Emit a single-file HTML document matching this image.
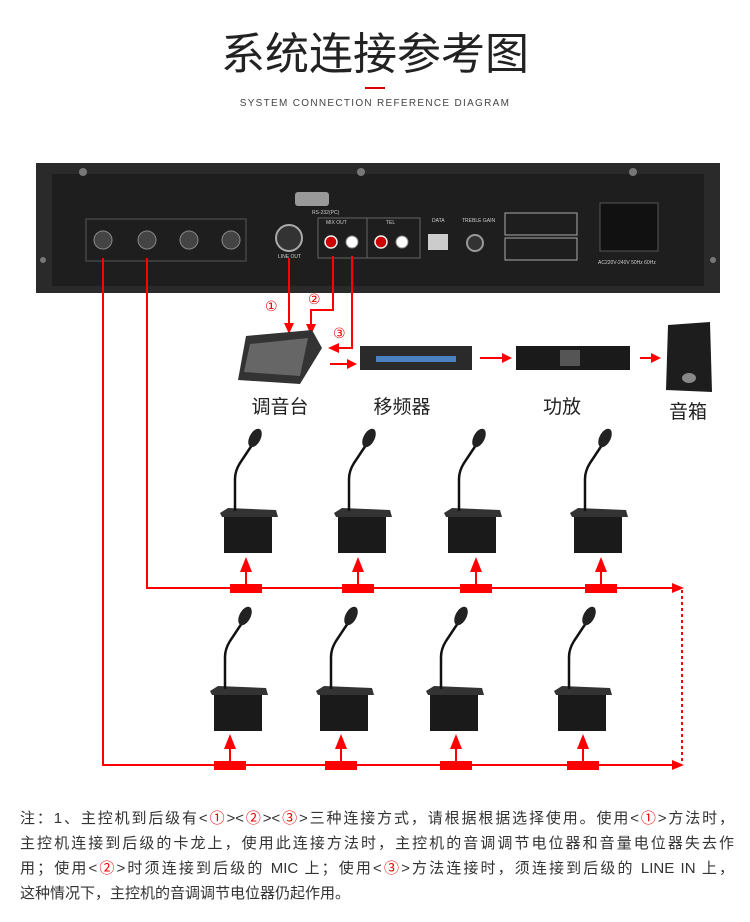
<!DOCTYPE html>
<html><head><meta charset="utf-8"><style>
body{margin:0;width:750px;height:922px;background:#fff;position:relative;overflow:hidden;font-family:"Liberation Sans","Noto Sans CJK SC",sans-serif}
.t{position:absolute;left:0;width:750px;text-align:center}
.note{position:absolute;left:20px;width:714px;font-size:15px;color:#333;text-align:justify;text-align-last:justify;white-space:nowrap;line-height:25px}
.r{color:#e00}
.lb{position:absolute;font-size:19px;color:#222;text-align:center;width:100px}
</style></head><body>
<div class="t" style="top:30px;font-size:44px;color:#222;line-height:50px">系统连接参考图</div>
<div style="position:absolute;left:365px;top:87px;width:20px;height:2px;background:#d00"></div>
<div class="t" style="top:98px;font-size:10px;color:#444;letter-spacing:1.3px">SYSTEM CONNECTION REFERENCE DIAGRAM</div>
<svg style="position:absolute;left:0;top:0" width="750" height="922">
<defs>
<g id="mic">
<path d="M-2,0 L6,-5 L54,-3 L56,4 L0,4z" fill="#333"/>
<rect x="2" y="4" width="48" height="36" fill="#1a1a1a"/>
<path d="M13,-2 L13,-34 Q13,-42 18,-50 L30,-68" stroke="#111" stroke-width="2.5" fill="none"/>
<ellipse cx="33" cy="-75" rx="5.5" ry="10" transform="rotate(28 33 -75)" fill="#222"/>
</g>
</defs>
<rect x="36" y="163" width="684" height="130" fill="#2a2a2a"/>
<rect x="52" y="174" width="652" height="112" fill="#1e1e1e"/>
<g fill="#777"><circle cx="83" cy="172" r="4"/><circle cx="361" cy="172" r="4"/><circle cx="633" cy="172" r="4"/><circle cx="43" cy="260" r="3"/><circle cx="713" cy="260" r="3"/></g>
<rect x="86" y="219" width="160" height="42" fill="none" stroke="#555"/>
<g fill="#444" stroke="#888"><circle cx="103" cy="240" r="9"/><circle cx="147" cy="240" r="9"/><circle cx="189" cy="240" r="9"/><circle cx="231" cy="240" r="9"/></g>
<rect x="295" y="192" width="34" height="14" rx="3" fill="#999"/>
<circle cx="289" cy="238" r="13" fill="#333" stroke="#aaa" stroke-width="2"/>
<rect x="318" y="218" width="49" height="40" fill="none" stroke="#666"/>
<rect x="367" y="218" width="53" height="40" fill="none" stroke="#666"/>
<circle cx="331" cy="242" r="6" fill="#c00" stroke="#eee" stroke-width="1.5"/>
<circle cx="352" cy="242" r="6" fill="#fff" stroke="#888"/>
<circle cx="381" cy="242" r="6" fill="#c00" stroke="#eee" stroke-width="1.5"/>
<circle cx="402" cy="242" r="6" fill="#fff" stroke="#888"/>
<rect x="428" y="234" width="20" height="16" fill="#ccc"/>
<circle cx="475" cy="243" r="8" fill="#333" stroke="#999" stroke-width="2"/>
<rect x="505" y="213" width="72" height="22" fill="none" stroke="#aaa"/>
<rect x="505" y="238" width="72" height="22" fill="none" stroke="#aaa"/>
<rect x="600" y="203" width="58" height="48" fill="#111" stroke="#555"/>
<g font-family="Liberation Sans" font-size="5" fill="#ccc"><text x="312" y="214">RS-232(PC)</text><text x="326" y="224">MIX OUT</text><text x="386" y="224">TEL</text><text x="432" y="222">DATA</text><text x="462" y="222">TREBLE GAIN</text><text x="278" y="258">LINE OUT</text><text x="598" y="264">AC220V-240V 50Hz 60Hz</text></g>
<g stroke="#f00" stroke-width="2" fill="none">
<path d="M289,258 V325"/>
<path d="M333,256 V310 H311 V326"/>
<path d="M352,256 V348 H338"/>
<path d="M330,364 H348"/><path d="M480,358 H503"/><path d="M640,358 H652"/>
<path d="M103,258 V765 H674"/>
<path d="M147,258 V588 H674"/>
<path d="M682,590 V762" stroke-dasharray="3,3"/>
</g>
<g fill="#f00">
<path d="M284,323 L294,323 L289,334z"/>
<path d="M306,324 L316,324 L311,335z"/>
<path d="M339,343 L339,353 L328,348z"/>
<path d="M347,359 L347,369 L357,364z"/>
<path d="M502,353 L502,363 L512,358z"/>
<path d="M651,353 L651,363 L661,358z"/>
<path d="M672,583 L672,593 L684,588z"/>
<path d="M672,760 L672,770 L684,765z"/>
</g>
<g font-family="Liberation Sans,DejaVu Sans" font-size="14" fill="#e00"><text x="265" y="311">①</text><text x="308" y="304">②</text><text x="333" y="338">③</text></g>
<path d="M246,336 L312,330 L322,348 L300,384 L238,380z" fill="#333"/>
<path d="M250,344 L308,338 L300,376 L244,372z" fill="#666"/>
<rect x="360" y="346" width="112" height="24" fill="#2a2a2a"/>
<rect x="376" y="356" width="80" height="6" fill="#4a7fc0"/>
<rect x="516" y="346" width="114" height="24" fill="#1a1a1a"/>
<rect x="560" y="350" width="20" height="16" fill="#555"/>
<path d="M668,325 L710,322 L712,392 L666,390z" fill="#1d1d1d"/>
<ellipse cx="689" cy="378" rx="7" ry="5" fill="#888"/>
<use href="#mic" x="222" y="513"/><use href="#mic" x="336" y="513"/><use href="#mic" x="446" y="513"/><use href="#mic" x="572" y="513"/>
<use href="#mic" x="212" y="691"/><use href="#mic" x="318" y="691"/><use href="#mic" x="428" y="691"/><use href="#mic" x="556" y="691"/>
<g fill="#f00">
<rect x="230" y="584" width="32" height="9"/><rect x="342" y="584" width="32" height="9"/><rect x="460" y="584" width="32" height="9"/><rect x="585" y="584" width="32" height="9"/>
<rect x="214" y="761" width="32" height="9"/><rect x="325" y="761" width="32" height="9"/><rect x="440" y="761" width="32" height="9"/><rect x="567" y="761" width="32" height="9"/>
</g>
<g stroke="#f00" stroke-width="2">
<path d="M246,584 V570"/><path d="M358,584 V570"/><path d="M476,584 V570"/><path d="M601,584 V570"/>
<path d="M230,761 V747"/><path d="M341,761 V747"/><path d="M456,761 V747"/><path d="M583,761 V747"/>
</g>
<g fill="#f00">
<path d="M240,572 L252,572 L246,557z"/><path d="M352,572 L364,572 L358,557z"/><path d="M470,572 L482,572 L476,557z"/><path d="M595,572 L607,572 L601,557z"/>
<path d="M224,749 L236,749 L230,734z"/><path d="M335,749 L347,749 L341,734z"/><path d="M450,749 L462,749 L456,734z"/><path d="M577,749 L589,749 L583,734z"/>
</g>
</svg>
<div class="lb" style="left:230px;top:392px">调音台</div>
<div class="lb" style="left:352px;top:392px">移频器</div>
<div class="lb" style="left:512px;top:392px">功放</div>
<div class="lb" style="left:638px;top:397px">音箱</div>
<div class="note" style="top:806px">注：1、主控机到后级有&lt;<span class="r">①</span>&gt;&lt;<span class="r">②</span>&gt;&lt;<span class="r">③</span>&gt;三种连接方式，请根据根据选择使用。使用&lt;<span class="r">①</span>&gt;方法时，</div>
<div class="note" style="top:831px">主控机连接到后级的卡龙上，使用此连接方法时，主控机的音调调节电位器和音量电位器失去作</div>
<div class="note" style="top:856px">用；使用&lt;<span class="r">②</span>&gt;时须连接到后级的 MIC 上；使用&lt;<span class="r">③</span>&gt;方法连接时，须连接到后级的 LINE IN 上，</div>
<div class="note" style="top:881px;text-align-last:left">这种情况下，主控机的音调调节电位器仍起作用。</div>
</body></html>
